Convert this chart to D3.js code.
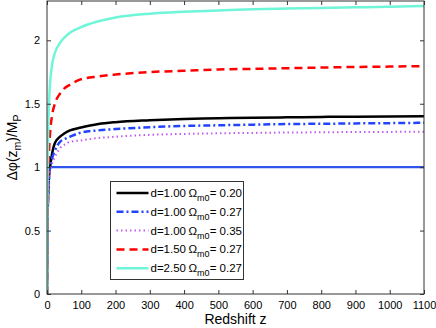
<!DOCTYPE html>
<html>
<head>
<meta charset="utf-8">
<script src="https://cdn.jsdelivr.net/npm/d3@7"></script>
<style>
  body { margin: 0; background: #fff; }
  svg { display: block; font-family: "Liberation Sans", Arial, sans-serif; }
</style>
</head>
<body>
<svg id="chart" width="436" height="328"></svg>
<script>
// redshift samples and curve values
const zValues = [0, 1, 2, 4, 6, 9, 15, 23, 38, 50, 67, 96, 150, 200, 300, 400, 500, 600, 700, 800, 900, 1000, 1100];
const blackVals = [0, 0.45, 0.65, 0.82, 0.93, 1.0, 1.11, 1.19, 1.24, 1.265, 1.29, 1.31, 1.34, 1.355, 1.37, 1.38, 1.385, 1.39, 1.393, 1.396, 1.398, 1.40, 1.402];
const blueVals = [0, 0.44, 0.63, 0.80, 0.92, 1.0, 1.07, 1.13, 1.20, 1.22, 1.24, 1.27, 1.29, 1.30, 1.315, 1.325, 1.33, 1.335, 1.34, 1.342, 1.345, 1.347, 1.35];
const violetVals = [0, 0.42, 0.60, 0.78, 0.90, 0.97, 1.03, 1.08, 1.15, 1.175, 1.20, 1.21, 1.23, 1.24, 1.255, 1.262, 1.267, 1.27, 1.273, 1.275, 1.277, 1.278, 1.28];
const redVals = [0, 0.55, 0.80, 1.0, 1.13, 1.27, 1.41, 1.50, 1.58, 1.62, 1.65, 1.69, 1.715, 1.73, 1.75, 1.76, 1.77, 1.775, 1.78, 1.785, 1.79, 1.793, 1.797];
const cyanVals = [0, 0.75, 1.05, 1.35, 1.52, 1.66, 1.81, 1.90, 1.98, 2.02, 2.06, 2.10, 2.15, 2.18, 2.21, 2.225, 2.235, 2.245, 2.25, 2.255, 2.26, 2.265, 2.27];

const dLabels = ['d=1.00', 'd=1.00', 'd=1.00', 'd=1.50', 'd=2.50'];
const omegaLabels = ['0.20', '0.27', '0.35', '0.27', '0.27'];

const xTicks = [0, 100, 200, 300, 400, 500, 600, 700, 800, 900, 1000, 1100];
const yTicks = [0, 0.5, 1, 1.5, 2];

const series = [
  { vals: blackVals, color: '#000000', dash: null, width: 2.5 },
  { vals: blueVals, color: '#2244ff', dash: '7,3,2,3', width: 2.5 },
  { vals: violetVals, color: '#c35cf2', dash: '1.5,3', width: 2 },
  { vals: redVals, color: '#ff0000', dash: '8,5', width: 2.5 },
  { vals: cyanVals, color: '#6ff5d8', dash: null, width: 2.5 }
];

const margin = { top: 1, right: 12, bottom: 34, left: 47 };
const width = 436 - margin.left - margin.right;
const height = 328 - margin.top - margin.bottom;

const svg = d3.select('#chart');
const g = svg.append('g').attr('transform', `translate(${margin.left},${margin.top})`);

const x = d3.scaleLinear().domain([0, 1100]).range([0, width]);
const y = d3.scaleLinear().domain([0, 2.31]).range([height, 0]);

g.append('defs').append('clipPath').attr('id', 'clip')
  .append('rect').attr('width', width).attr('height', height);

const plot = g.append('g').attr('clip-path', 'url(#clip)');

// reference line at 1
plot.append('line')
  .attr('x1', x(0)).attr('x2', x(1100))
  .attr('y1', y(1)).attr('y2', y(1))
  .attr('stroke', '#2e55f0').attr('stroke-width', 2.3);

const line = d3.line()
  .x((d, i) => x(zValues[i]))
  .y(d => y(d))
  .curve(d3.curveMonotoneX);

series.forEach(s => {
  plot.append('path')
    .attr('d', line(s.vals))
    .attr('fill', 'none')
    .attr('stroke', s.color)
    .attr('stroke-width', s.width)
    .attr('stroke-dasharray', s.dash);
});

// axes with inward ticks, mirrored on top and right
const axisColor = '#333';
g.append('g').attr('transform', `translate(0,${height})`)
  .call(d3.axisBottom(x).tickValues(xTicks).tickSize(-4).tickPadding(7).tickFormat(d3.format('d')));
g.append('g')
  .call(d3.axisLeft(y).tickValues(yTicks).tickSize(-4).tickPadding(7).tickFormat(d => d));
g.append('g')
  .call(d3.axisTop(x).tickValues(xTicks).tickSize(-4).tickFormat(''));
g.append('g').attr('transform', `translate(${width},0)`)
  .call(d3.axisRight(y).tickValues(yTicks).tickSize(-4).tickFormat(''));

g.selectAll('.domain').remove();
g.selectAll('.tick line').attr('stroke', axisColor);
g.selectAll('.tick text').attr('fill', '#000').style('font-size', '11px')
  .style('font-family', '"Liberation Sans", Arial, sans-serif');

g.append('rect')
  .attr('x', 0).attr('y', 0).attr('width', width).attr('height', height)
  .attr('fill', 'none').attr('stroke', axisColor).attr('stroke-width', 1);

// axis titles
svg.append('text')
  .attr('x', margin.left + width / 2).attr('y', 324)
  .attr('text-anchor', 'middle')
  .style('font-size', '14px')
  .text('Redshift z');

const yTitle = svg.append('text')
  .attr('transform', `translate(17,${margin.top + height / 2}) rotate(-90)`)
  .attr('text-anchor', 'middle')
  .style('font-size', '14px');
yTitle.append('tspan').text('Δφ(z');
yTitle.append('tspan').attr('dy', 4).style('font-size', '10.5px').text('m');
yTitle.append('tspan').attr('dy', -4).text(')/M');
yTitle.append('tspan').attr('dy', 4).style('font-size', '10.5px').text('P');

// legend
const legend = svg.append('g').attr('transform', 'translate(110.5,181.5)');
legend.append('rect')
  .attr('width', 133).attr('height', 98)
  .attr('fill', '#fff').attr('stroke', axisColor).attr('stroke-width', 1);

series.forEach((s, i) => {
  const ly = 11.5 + i * 18.8;
  legend.append('line')
    .attr('x1', 6).attr('x2', 38).attr('y1', ly).attr('y2', ly)
    .attr('stroke', s.color).attr('stroke-width', s.width)
    .attr('stroke-dasharray', s.dash);
  const t = legend.append('text')
    .attr('y', ly + 4)
    .style('font-size', '11.5px');
  t.append('tspan').attr('x', 40).text(dLabels[i]);
  t.append('tspan').attr('x', 78).text('Ω');
  t.append('tspan').attr('dy', 4).style('font-size', '9px').text('m0');
  t.append('tspan').attr('dy', -4).text('= ' + omegaLabels[i]);
});
</script>
</body>
</html>
